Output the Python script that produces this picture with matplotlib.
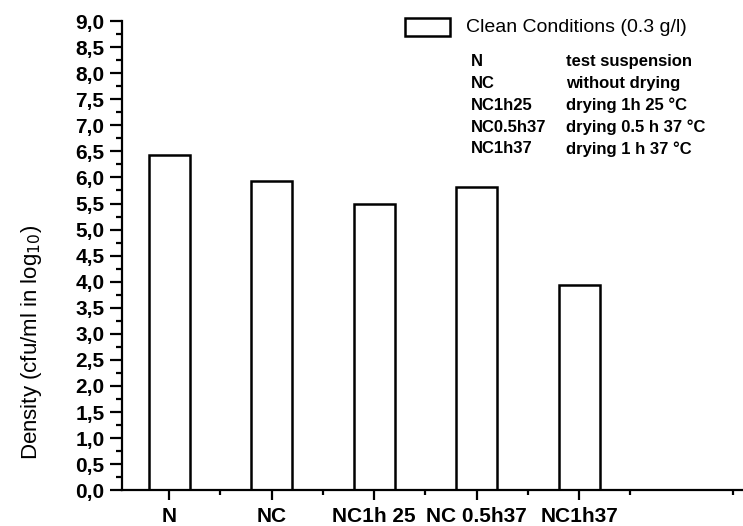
import numpy as np
import matplotlib
matplotlib.use("Agg")
import matplotlib.pyplot as plt
from matplotlib.ticker import MultipleLocator, FixedLocator, FuncFormatter
from matplotlib.patches import Rectangle

plt.rcParams['font.family'] = ['Liberation Sans', 'DejaVu Sans']

# data
categories = ["N", "NC", "NC1h 25", "NC 0.5h37", "NC1h37"]
density = [6.43, 5.93, 5.5, 5.82, 3.93]
legend_label = "Clean Conditions (0.3 g/l)"
abbrev = ["N", "NC", "NC1h25", "NC0.5h37", "NC1h37"]
meaning = ["test suspension", "without drying", "drying 1h 25 \u00b0C",
           "drying 0.5 h 37 \u00b0C", "drying 1 h 37 \u00b0C"]

fig = plt.figure(figsize=(7.43, 5.26), dpi=100)
ax = fig.add_axes([0.164, 0.068, 0.836, 0.892])

x = np.arange(len(categories))
ax.bar(x, density, width=0.4, facecolor="white", edgecolor="black", linewidth=1.8)

ax.set_xlim(-0.46, 5.6)
ax.set_ylim(0, 9)

for s in ["top", "right"]:
    ax.spines[s].set_visible(False)
for s in ["left", "bottom"]:
    ax.spines[s].set_linewidth(1.6)

ax.set_xticks(x)
ax.set_xticklabels(categories, fontweight="bold", fontsize=15)
ax.xaxis.set_minor_locator(FixedLocator(np.arange(0.5, 5.6, 1.0)))
ax.yaxis.set_major_locator(MultipleLocator(0.5))
ax.yaxis.set_minor_locator(MultipleLocator(0.25))
ax.yaxis.set_major_formatter(FuncFormatter(lambda v, p: f"{v:.1f}".replace(".", ",")))
ax.tick_params(axis="y", labelsize=15, pad=4)
for lab in ax.get_yticklabels():
    lab.set_fontweight("bold")
ax.tick_params(axis="y", which="major", direction="out", length=8.5, width=1.6)
ax.tick_params(axis="y", which="minor", direction="out", length=4.3, width=1.6)
ax.tick_params(axis="x", which="major", direction="out", length=7, width=1.6, pad=5)
ax.tick_params(axis="x", which="minor", direction="out", length=3.6, width=1.6)

ax.set_ylabel("Density (cfu/ml in log$_{10}$)", fontsize=16)
ax.yaxis.set_label_coords(-0.125, 0.316)

# legend box
ax.add_patch(Rectangle((0.456, 0.968), 0.0725, 0.038, transform=ax.transAxes,
                       facecolor="white", edgecolor="black", linewidth=1.8,
                       clip_on=False))
ax.text(0.554, 0.987, legend_label, transform=ax.transAxes, fontsize=14,
        va="center", ha="left")

for i, (a, m) in enumerate(zip(abbrev, meaning)):
    yy = 0.913 - i * 0.0464
    ax.text(0.562, yy, a, transform=ax.transAxes, fontsize=12,
            fontweight="bold", va="center")
    ax.text(0.715, yy, m, transform=ax.transAxes, fontsize=12,
            fontweight="bold", va="center")

fig.savefig("out.png", dpi=100)
